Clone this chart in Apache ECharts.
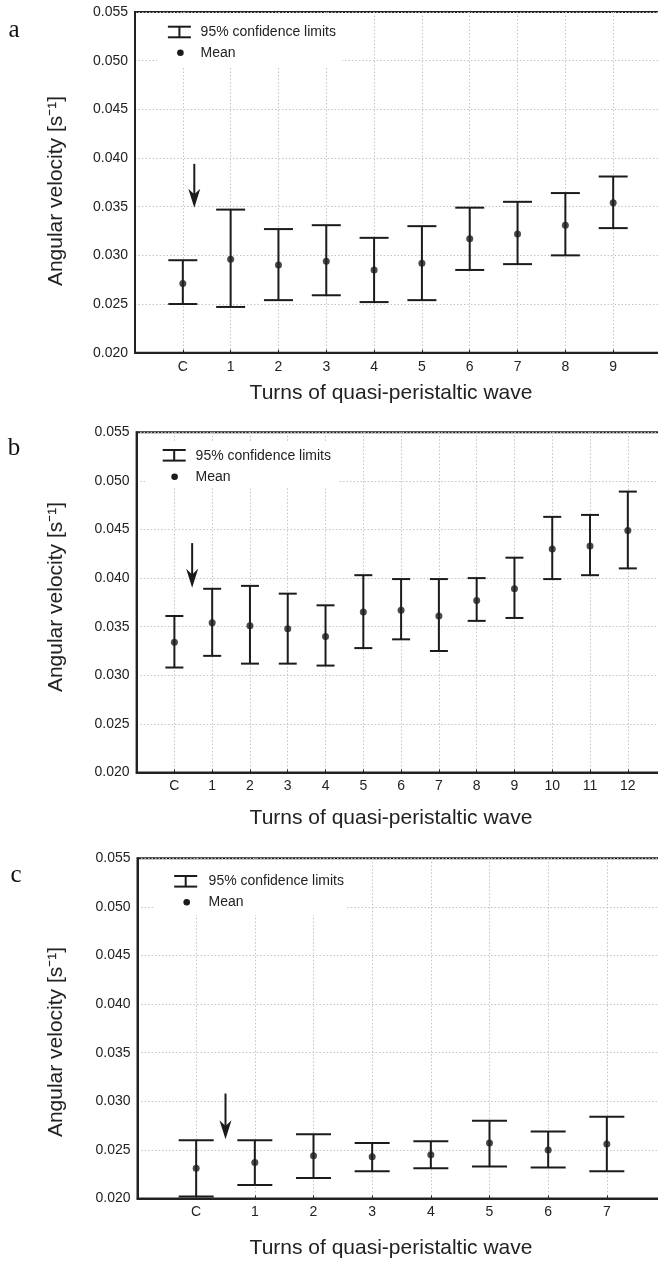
<!DOCTYPE html>
<html>
<head>
<meta charset="utf-8">
<script src="https://cdn.jsdelivr.net/npm/echarts@6/dist/echarts.min.js"></script>
<style>
html,body{margin:0;padding:0;background:#fff;}
#chart{width:658px;height:1262px;}
</style>
</head>
<body>
<div id="chart"></div>
<script>
// ---------- data ----------
const yTicks = [0.020, 0.025, 0.030, 0.035, 0.040, 0.045, 0.050, 0.055];

const catsA = ['C','1','2','3','4','5','6','7','8','9'];
const meanA = [0.0271,0.0296,0.0290,0.0294,0.0285,0.0292,0.0317,0.0322,0.0331,0.0354];
const lowA  = [0.0250,0.0247,0.0254,0.0259,0.0252,0.0254,0.0285,0.0291,0.0300,0.0328];
const highA = [0.0295,0.0347,0.0327,0.0331,0.0318,0.0330,0.0349,0.0355,0.0364,0.0381];
const arrowA = [0.24, 0.0394, 0.0349];

const catsB = ['C','1','2','3','4','5','6','7','8','9','10','11','12'];
const meanB = [0.0334,0.0354,0.0351,0.0348,0.0340,0.0365,0.0367,0.0361,0.0377,0.0389,0.0430,0.0433,0.0449];
const lowB  = [0.0308,0.0320,0.0312,0.0312,0.0310,0.0328,0.0337,0.0325,0.0356,0.0359,0.0399,0.0403,0.0410];
const highB = [0.0361,0.0389,0.0392,0.0384,0.0372,0.0403,0.0399,0.0399,0.0400,0.0421,0.0463,0.0465,0.0489];
const arrowB = [0.47, 0.0436, 0.0390];

const catsC = ['C','1','2','3','4','5','6','7'];
const meanC = [0.0231,0.0237,0.0244,0.0243,0.0245,0.0257,0.0250,0.0256];
const lowC  = [0.0202,0.0214,0.0221,0.0228,0.0231,0.0233,0.0232,0.0228];
const highC = [0.0260,0.0260,0.0266,0.0257,0.0259,0.0280,0.0269,0.0284];
const arrowC = [0.50, 0.0308, 0.0261];

const panelLetters = ['a','b','c'];
const xTitle = 'Turns of quasi-peristaltic wave';
const yTitle = 'Angular velocity [s\u207B\u00B9]';
const legendNames = ['95% confidence limits', 'Mean'];

// ---------- layout / style ----------
const ink = '#1b1b1b';
const txt = '#222';
const FONT = '"Liberation Sans", Arial, Helvetica, sans-serif';

const panels = [
  {cats: catsA, mean: meanA, low: lowA, high: highA, arrow: arrowA,
   grid: {left: 135, top: 12, width: 526, height: 340.7}, cap: 29,
   letter: [14, 30], ylab: [56, 191], xlab: [391, 393],
   legBox: [157, 14, 185, 52], legIcon: [179.4, 32], legDot: [180.4, 52.7], legText: 200.6, legY: [32.3, 53.3]},
  {cats: catsB, mean: meanB, low: lowB, high: highB, arrow: arrowB,
   grid: {left: 136.6, top: 432.3, width: 529, height: 340.2}, cap: 18,
   letter: [14, 448], ylab: [56, 597], xlab: [391, 818],
   legBox: [145, 441, 193, 47], legIcon: [174.2, 455.3], legDot: [174.6, 476.7], legText: 195.6, legY: [455.7, 477]},
  {cats: catsC, mean: meanC, low: lowC, high: highC, arrow: arrowC,
   grid: {left: 137.5, top: 858.3, width: 528, height: 340.2}, cap: 35,
   letter: [16, 875], ylab: [56, 1042], xlab: [391, 1248],
   legBox: [155, 862, 191, 53], legIcon: [185.7, 881.3], legDot: [186.7, 902.3], legText: 208.6, legY: [881, 902]}
];

function errRender(capPx) {
  return function (params, api) {
    const x = api.value(0), lo = api.value(1), hi = api.value(2);
    const pLo = api.coord([x, lo]);
    const pHi = api.coord([x, hi]);
    const h = capPx / 2;
    const st = {stroke: ink, lineWidth: 2};
    return {type: 'group', children: [
      {type: 'line', shape: {x1: pLo[0], y1: pLo[1], x2: pHi[0], y2: pHi[1]}, style: st},
      {type: 'line', shape: {x1: pLo[0] - h, y1: pLo[1], x2: pLo[0] + h, y2: pLo[1]}, style: st},
      {type: 'line', shape: {x1: pHi[0] - h, y1: pHi[1], x2: pHi[0] + h, y2: pHi[1]}, style: st}
    ]};
  };
}

function arrowRender(params, api) {
  const x = api.value(0);
  const pTop = api.coord([x, api.value(1)]);
  const pTip = api.coord([x, api.value(2)]);
  const hl = 19, hw = 6;
  const X = pTip[0];
  return {type: 'group', children: [
    {type: 'line', shape: {x1: X, y1: pTop[1], x2: X, y2: pTip[1] - hl * 0.6}, style: {stroke: ink, lineWidth: 2}},
    {type: 'polygon', shape: {points: [[X, pTip[1]], [X - hw, pTip[1] - hl], [X, pTip[1] - hl * 0.7], [X + hw, pTip[1] - hl]]},
     style: {fill: ink}}
  ]};
}

const grids = [], xAxes = [], yAxes = [], series = [], graphics = [];

panels.forEach((p, i) => {
  grids.push(Object.assign({show: true, borderColor: '#222', borderWidth: 2, backgroundColor: 'transparent',
    containLabel: false, outerBoundsMode: 'none'}, p.grid));
  const cats = p.cats;
  xAxes.push({
    type: 'value', gridIndex: i, min: -1, max: cats.length, interval: 1,
    axisLine: {show: true, onZero: false, lineStyle: {color: '#222', width: 2}},
    axisTick: {show: true, inside: true, length: 3, lineStyle: {color: '#222', width: 1}},
    splitLine: {show: true, lineStyle: {color: '#c4c4c4', width: 1, type: [1.5, 2]}},
    axisLabel: {margin: 7, fontSize: 14, fontFamily: FONT, color: txt,
      formatter: v => (v >= 0 && v < cats.length && Number.isInteger(v)) ? cats[v] : ''}
  });
  yAxes.push({
    type: 'value', gridIndex: i, min: yTicks[0], max: yTicks[yTicks.length - 1], interval: 0.005,
    axisLine: {show: true, onZero: false, lineStyle: {color: '#222', width: 2}},
    axisTick: {show: false},
    splitLine: {show: true, lineStyle: {color: '#c4c4c4', width: 1, type: [1.5, 2]}},
    axisLabel: {margin: 7, fontSize: 14, fontFamily: FONT, color: txt, formatter: v => v.toFixed(3)}
  });
  series.push({
    type: 'custom', name: legendNames[0], xAxisIndex: i, yAxisIndex: i, z: 3,
    renderItem: errRender(p.cap),
    encode: {x: 0, y: [1, 2]},
    data: cats.map((c, k) => [k, p.low[k], p.high[k]])
  });
  series.push({
    type: 'scatter', name: legendNames[1], xAxisIndex: i, yAxisIndex: i, z: 4,
    symbol: 'circle', symbolSize: 7, itemStyle: {color: ink},
    data: cats.map((c, k) => [k, p.mean[k]])
  });
  series.push({
    type: 'custom', name: 'arrow', xAxisIndex: i, yAxisIndex: i, z: 3,
    renderItem: arrowRender, encode: {x: 0, y: [1, 2]},
    data: [p.arrow]
  });

  // legend box
  const b = p.legBox;
  graphics.push({type: 'rect', z: 1, shape: {x: b[0], y: b[1], width: b[2], height: b[3]}, style: {fill: '#fff'}});
  const ic = p.legIcon;
  const st = {stroke: ink, lineWidth: 2};
  graphics.push({type: 'line', z: 2, shape: {x1: ic[0] - 11.5, y1: ic[1] - 5.3, x2: ic[0] + 11.5, y2: ic[1] - 5.3}, style: st});
  graphics.push({type: 'line', z: 2, shape: {x1: ic[0] - 11.5, y1: ic[1] + 5.3, x2: ic[0] + 11.5, y2: ic[1] + 5.3}, style: st});
  graphics.push({type: 'line', z: 2, shape: {x1: ic[0], y1: ic[1] - 5.3, x2: ic[0], y2: ic[1] + 5.3}, style: st});
  graphics.push({type: 'circle', z: 2, shape: {cx: p.legDot[0], cy: p.legDot[1], r: 3.3}, style: {fill: ink}});
  graphics.push({type: 'text', z: 2, x: p.legText, y: p.legY[0],
    style: {text: legendNames[0], fontSize: 14, fontFamily: FONT, fill: txt, align: 'left', verticalAlign: 'middle'}});
  graphics.push({type: 'text', z: 2, x: p.legText, y: p.legY[1],
    style: {text: legendNames[1], fontSize: 14, fontFamily: FONT, fill: txt, align: 'left', verticalAlign: 'middle'}});

  // titles
  graphics.push({type: 'text', z: 2, x: p.letter[0], y: p.letter[1],
    style: {text: panelLetters[i], fontSize: 25, fontFamily: '"Liberation Serif", "Times New Roman", serif', fill: '#111', align: 'center', verticalAlign: 'middle'}});
  graphics.push({type: 'text', z: 2, x: p.ylab[0], y: p.ylab[1], rotation: Math.PI / 2,
    style: {text: yTitle, fontSize: 21, fontFamily: FONT, fill: txt, align: 'center', verticalAlign: 'middle'}});
  graphics.push({type: 'text', z: 2, x: p.xlab[0], y: p.xlab[1],
    style: {text: xTitle, fontSize: 21, fontFamily: FONT, fill: txt, align: 'center', verticalAlign: 'middle'}});
});

const chart = echarts.init(document.getElementById('chart'), null, {renderer: 'canvas'});
chart.setOption({
  animation: false,
  backgroundColor: '#fff',
  grid: grids,
  xAxis: xAxes,
  yAxis: yAxes,
  series: series,
  graphic: {elements: graphics}
});
</script>
</body>
</html>
